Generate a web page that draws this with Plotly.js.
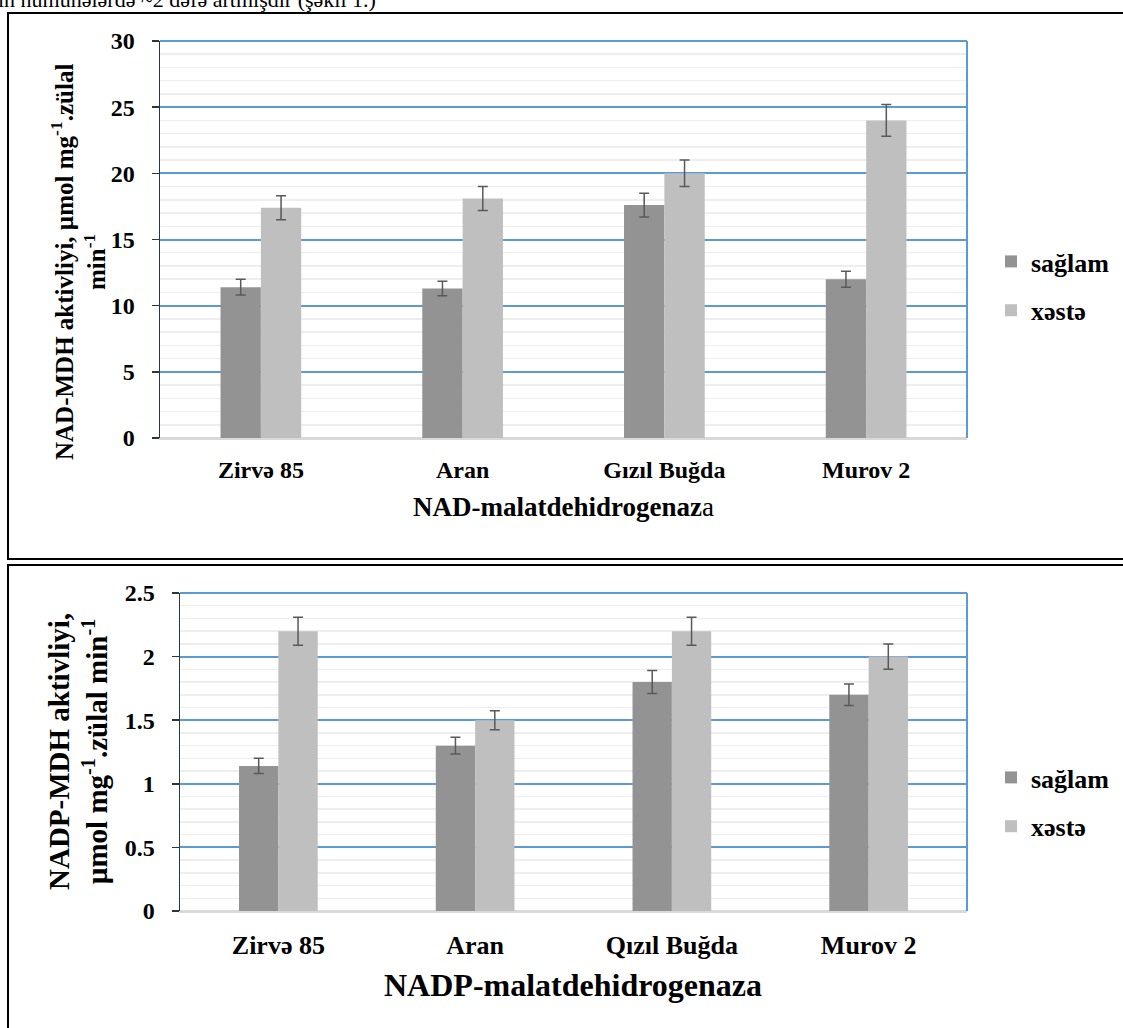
<!DOCTYPE html>
<html><head><meta charset="utf-8">
<script src="https://cdn.plot.ly/plotly-3.0.1.min.js"></script>
<style>html,body{margin:0;padding:0;background:#fff;}#chart{width:1123px;height:1028px;}</style>
</head><body><div id="chart"></div>
<script>
// ---- data ----
const categoriesNAD = ['Zirvə 85', 'Aran', 'Gızıl Buğda', 'Murov 2'];
const categoriesNADP = ['Zirvə 85', 'Aran', 'Qızıl Buğda', 'Murov 2'];
const seriesNames = ['sağlam', 'xəstə'];
const nadHealthy = [11.4, 11.3, 17.6, 12.0];
const nadHealthyErr = [0.6, 0.55, 0.9, 0.6];
const nadDiseased = [17.4, 18.1, 20.0, 24.0];
const nadDiseasedErr = [0.9, 0.9, 1.0, 1.2];
const nadpHealthy = [1.14, 1.30, 1.80, 1.70];
const nadpHealthyErr = [0.06, 0.065, 0.09, 0.085];
const nadpDiseased = [2.20, 1.50, 2.20, 2.00];
const nadpDiseasedErr = [0.11, 0.075, 0.11, 0.10];
const nadTickVals = [0, 5, 10, 15, 20, 25, 30];
const nadTickText = ['0', '5', '10', '15', '20', '25', '30'];
const nadpTickVals = [0, 0.5, 1, 1.5, 2, 2.5];
const nadpTickText = ['0', '0.5', '1', '1.5', '2', '2.5'];
const introText = 'ın nümunələrdə ~2 dəfə artmışdır (şəkil 1.)';
const nadYTitle = 'NAD-MDH aktivliyi, µmol mg<sup>-1</sup>.zülal<br>min<sup>-1</sup>';
const nadpYTitle = 'NADP-MDH aktivliyi,<br>µmol mg<sup>-1</sup>.zülal min<sup>-1</sup>';
const nadXTitle = '<b>NAD-malatdehidrogenaz</b>a';
const nadpXTitle = 'NADP-malatdehidrogenaza';

// ---- style ----
const W = 1123, H = 1028;
const px = v => v / W;
const py = v => 1 - v / H;
const FAM = '"Liberation Serif", "Times New Roman", serif';
const C_H = '#939393', C_D = '#bfbfbf';
const BLUE = '#5b9bd5';
const ERR = {type: 'data', color: '#595959', thickness: 1.5, width: 5};

function bar(x, y, err, name, color, xa, ya, leg, grp) {
  return {
    type: 'bar', x: x, y: y, name: name, xaxis: xa, yaxis: ya,
    marker: {color: color, line: {width: 0}},
    error_y: Object.assign({array: err}, ERR),
    legend: leg, legendgroup: grp, hoverinfo: 'skip'
  };
}

const data = [
  bar(categoriesNAD, nadHealthy, nadHealthyErr, seriesNames[0], C_H, 'x', 'y', 'legend', 'a'),
  bar(categoriesNAD, nadDiseased, nadDiseasedErr, seriesNames[1], C_D, 'x', 'y', 'legend', 'b'),
  bar(categoriesNADP, nadpHealthy, nadpHealthyErr, seriesNames[0], C_H, 'x2', 'y2', 'legend2', 'c'),
  bar(categoriesNADP, nadpDiseased, nadpDiseasedErr, seriesNames[1], C_D, 'x2', 'y2', 'legend2', 'd')
];

function xax(dom, anchor, fs, standoff) {
  return {
    domain: dom, anchor: anchor, type: 'category', showgrid: false,
    showline: true, linecolor: '#d9d9d9', linewidth: 1.5, ticks: '',
    tickfont: {family: FAM, size: fs, color: '#000', weight: 'bold'},
    ticklabelstandoff: standoff, fixedrange: true
  };
}
function yax(dom, anchor, range, tv, tt, minorStep, fs, standoff) {
  return {
    domain: dom, anchor: anchor, range: range, tickmode: 'array', tickvals: tv, ticktext: tt,
    showgrid: true, gridcolor: BLUE, gridwidth: 2,
    minor: {tickmode: 'linear', tick0: 0, dtick: minorStep, showgrid: true, gridcolor: '#eeeeee', gridwidth: 1.5, ticks: ''},
    showline: true, linecolor: '#26374c', linewidth: 1.5,
    ticks: 'outside', ticklen: 7, tickwidth: 1.5, tickcolor: '#333',
    tickfont: {family: FAM, size: fs, color: '#000', weight: 'bold'},
    ticklabelstandoff: standoff,
    zeroline: true, zerolinecolor: '#d9d9d9', zerolinewidth: 1.5, fixedrange: true
  };
}

const legendBase = {
  xanchor: 'left', yanchor: 'middle', bgcolor: 'rgba(0,0,0,0)', borderwidth: 0,
  font: {family: FAM, size: 26, color: '#000', weight: 'bold'},
  tracegroupgap: 12, traceorder: 'grouped', itemclick: false, itemdoubleclick: false
};

const layout = {
  width: W, height: H, margin: {l: 0, r: 0, t: 0, b: 0, pad: 0},
  paper_bgcolor: '#fff', plot_bgcolor: '#fff',
  barmode: 'group', bargap: 0.6, bargroupgap: 0,
  showlegend: true,
  xaxis: xax([px(160), px(967)], 'y', 24, 10),
  yaxis: yax([py(438), py(41)], 'x', [0, 30], nadTickVals, nadTickText, 1, 24, 12),
  xaxis2: xax([px(180), px(967)], 'y2', 26, 10),
  yaxis2: yax([py(911), py(593)], 'x2', [0, 2.5], nadpTickVals, nadpTickText, 0.1, 24, 12),
  legend: Object.assign({x: px(991), y: py(286)}, legendBase),
  legend2: Object.assign({x: px(991), y: py(802)}, legendBase),
  shapes: [
    {type: 'rect', xref: 'paper', yref: 'paper', x0: px(8), x1: px(1135), y0: py(13), y1: py(559), line: {color: '#000', width: 2}},
    {type: 'rect', xref: 'paper', yref: 'paper', x0: px(8), x1: px(1135), y0: py(565), y1: py(1040), line: {color: '#000', width: 2}},
    {type: 'line', xref: 'paper', yref: 'paper', x0: px(967), x1: px(967), y0: py(438), y1: py(41), line: {color: BLUE, width: 2}},
    {type: 'line', xref: 'paper', yref: 'paper', x0: px(160), x1: px(967), y0: py(41), y1: py(41), line: {color: BLUE, width: 2}},
    {type: 'line', xref: 'paper', yref: 'paper', x0: px(967), x1: px(967), y0: py(911), y1: py(593), line: {color: BLUE, width: 2}},
    {type: 'line', xref: 'paper', yref: 'paper', x0: px(180), x1: px(967), y0: py(593), y1: py(593), line: {color: BLUE, width: 2}}
  ],
  annotations: [
    {text: introText, xref: 'paper', yref: 'paper', x: px(-4), y: py(14), xanchor: 'left', yanchor: 'bottom',
     showarrow: false, font: {family: FAM, size: 22, color: '#000'}},
    {text: nadYTitle, xref: 'paper', yref: 'paper', x: px(78), y: py(262), xanchor: 'center', yanchor: 'middle',
     textangle: -90, showarrow: false, font: {family: FAM, size: 25, color: '#000', weight: 'bold'}},
    {text: nadpYTitle, xref: 'paper', yref: 'paper', x: px(78), y: py(752), xanchor: 'center', yanchor: 'middle',
     textangle: -90, showarrow: false, font: {family: FAM, size: 29, color: '#000', weight: 'bold'}},
    {text: nadXTitle, xref: 'paper', yref: 'paper', x: px(563), y: py(507), xanchor: 'center', yanchor: 'middle',
     showarrow: false, font: {family: FAM, size: 27, color: '#000'}},
    {text: nadpXTitle, xref: 'paper', yref: 'paper', x: px(573), y: py(985), xanchor: 'center', yanchor: 'middle',
     showarrow: false, font: {family: FAM, size: 32, color: '#000', weight: 'bold'}}
  ]
};

Plotly.newPlot('chart', data, layout, {displayModeBar: false, staticPlot: true});
</script>
</body></html>
